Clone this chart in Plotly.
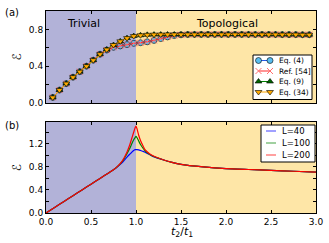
import plotly.graph_objects as go

# ---- panel (a) data ----
x_a = [0.075, 0.15, 0.225, 0.3, 0.375, 0.45, 0.525, 0.6, 0.675, 0.75,
       0.825, 0.9, 0.975, 1.05, 1.125, 1.2, 1.275, 1.35, 1.425, 1.5,
       1.575, 1.65, 1.725, 1.8, 1.875, 1.95, 2.025, 2.1, 2.175, 2.25,
       2.325, 2.4, 2.475, 2.55, 2.625, 2.7, 2.775, 2.85, 2.925]
eq4 = [0.06, 0.14, 0.21, 0.28, 0.34, 0.40, 0.465, 0.53, 0.575, 0.605,
       0.62, 0.635, 0.648, 0.655, 0.665, 0.68, 0.70, 0.718, 0.733, 0.741,
       0.744, 0.745, 0.745, 0.745, 0.745, 0.745, 0.745, 0.745, 0.745, 0.745,
       0.744, 0.744, 0.744, 0.744, 0.743, 0.743, 0.743, 0.742, 0.742]
ref54 = list(eq4)
eq9 = [0.06, 0.14, 0.21, 0.28, 0.34, 0.40, 0.465, 0.53, 0.58, 0.63,
       0.67, 0.705, 0.727, 0.736, 0.741, 0.743, 0.744, 0.745, 0.745, 0.745,
       0.745, 0.745, 0.745, 0.745, 0.745, 0.745, 0.745, 0.745, 0.745, 0.745,
       0.744, 0.744, 0.744, 0.744, 0.743, 0.743, 0.743, 0.742, 0.742]
eq34 = list(eq9)

# ---- panel (b) data ----
x_b = [0.0, 0.1, 0.2, 0.3, 0.4, 0.5, 0.6, 0.7, 0.75, 0.8, 0.85, 0.9, 0.93,
       0.95, 0.97, 0.99, 1.0, 1.01, 1.03, 1.05, 1.08, 1.1, 1.15, 1.2, 1.3,
       1.4, 1.5, 1.75, 2.0, 2.25, 2.5, 2.75, 3.0]
L40 = [0.0, 0.1, 0.2, 0.3, 0.4, 0.5, 0.6, 0.7, 0.75, 0.81, 0.88, 0.97, 1.02,
       1.05, 1.08, 1.10, 1.10, 1.10, 1.095, 1.085, 1.07, 1.055, 1.015, 0.975, 0.925,
       0.88, 0.845, 0.80, 0.77, 0.755, 0.74, 0.725, 0.71]
L100 = [0.0, 0.1, 0.2, 0.3, 0.4, 0.5, 0.6, 0.7, 0.75, 0.815, 0.90, 1.03, 1.12,
        1.19, 1.26, 1.31, 1.33, 1.31, 1.25, 1.19, 1.12, 1.08, 1.02, 0.98, 0.925,
        0.88, 0.845, 0.80, 0.77, 0.755, 0.74, 0.725, 0.71]
L200 = [0.0, 0.1, 0.2, 0.3, 0.4, 0.5, 0.6, 0.7, 0.75, 0.818, 0.91, 1.06, 1.18,
        1.28, 1.38, 1.48, 1.51, 1.47, 1.35, 1.26, 1.16, 1.10, 1.03, 0.985, 0.925,
        0.88, 0.845, 0.80, 0.77, 0.755, 0.74, 0.725, 0.71]

x_ticks = [0.0, 0.5, 1.0, 1.5, 2.0, 2.5, 3.0]
x_ticklabels = ["0.0", "0.5", "1.0", "1.5", "2.0", "2.5", "3.0"]
ya_ticks = [0.0, 0.4, 0.8]
ya_ticklabels = ["0.0", "0.4", "0.8"]
yb_ticks = [0.0, 0.4, 0.8, 1.2]
yb_ticklabels = ["0.0", "0.4", "0.8", "1.2"]

legend_a_names = ["Eq. (4)", "Ref. [54]", "Eq. (9)", "Eq. (34)"]
legend_b_names = ["L=40", "L=100", "L=200"]

FONT = "DejaVu Sans"
LAV = "rgb(178,178,216)"
YEL = "rgb(254,230,167)"

W, H = 329, 243
ML, MR, MT, MB = 46, 13, 11, 30

styles_a = [
    dict(line=dict(color="rgb(40,90,230)", width=1),
         marker=dict(symbol="circle", size=6, color="rgb(90,190,240)",
                     line=dict(color="black", width=0.6))),
    dict(line=dict(color="rgb(255,40,40)", width=1),
         marker=dict(symbol="x-thin", size=6, line=dict(color="rgb(255,110,110)", width=1))),
    dict(line=dict(color="rgb(0,128,0)", width=1),
         marker=dict(symbol="triangle-up", size=6, color="rgb(0,100,0)",
                     line=dict(color="black", width=0.6))),
    dict(line=dict(color="rgb(255,165,0)", width=1),
         marker=dict(symbol="triangle-down", size=6, color="rgb(255,170,0)",
                     line=dict(color="black", width=0.6))),
]
colors_b = ["rgb(0,0,255)", "rgb(0,128,0)", "rgb(255,0,0)"]
colors_b_leg = ["rgb(128,128,255)", "rgb(128,192,128)", "rgb(255,128,128)"]


def paper(xp, yp):
    """pixel position -> paper coordinates"""
    return (xp - ML) / (W - ML - MR), (H - MB - yp) / (H - MT - MB)


fig = go.Figure()

for name, yy, st in zip(legend_a_names, [eq4, ref54, eq9, eq34], styles_a):
    fig.add_trace(go.Scatter(x=x_a, y=yy, name=name, mode="lines+markers",
                             xaxis="x", yaxis="y", showlegend=False, **st))

for name, yy, col in zip(legend_b_names, [L40, L100, L200], colors_b):
    fig.add_trace(go.Scatter(x=x_b, y=yy, name=name, mode="lines",
                             line=dict(color=col, width=1.2, shape="spline", smoothing=0.5),
                             xaxis="x2", yaxis="y2", showlegend=False))

# background regions
for xr, yr in [("x", "y"), ("x2", "y2")]:
    fig.add_shape(type="rect", xref=xr, yref=yr + " domain", x0=0, x1=1, y0=0, y1=1,
                  fillcolor=LAV, line_width=0, layer="below")
    fig.add_shape(type="rect", xref=xr, yref=yr + " domain", x0=1, x1=3, y0=0, y1=1,
                  fillcolor=YEL, line_width=0, layer="below")

axis_common = dict(showgrid=False, zeroline=False, showline=True, linecolor="black",
                   linewidth=1, mirror="ticks", ticks="inside", ticklen=3,
                   tickcolor="black", automargin=False,
                   tickfont=dict(family=FONT, size=9, color="black"))
minor_y = dict(dtick=0.2, tick0=0, ticks="inside", ticklen=3, tickcolor="black",
               showgrid=False)

# ---- manual legends drawn on an overlay axis in pixel units ----
ann = []
fig.add_shape(type="rect", xref="x3", yref="y3", x0=253, x1=312, y0=55, y1=99.5,
              fillcolor="white", line=dict(color="black", width=1), layer="below")
rows_a = [60.5, 71, 81.5, 92]
for name, yc, st in zip(legend_a_names, rows_a, styles_a):
    fig.add_trace(go.Scatter(x=[258.5, 270], y=[yc, yc], mode="lines+markers",
                             xaxis="x3", yaxis="y3", showlegend=False, hoverinfo="skip",
                             cliponaxis=False, **st))
    ann.append(dict(text=name, x=277, y=yc, xref="x3", yref="y3", xanchor="left",
                    yanchor="middle", showarrow=False,
                    font=dict(family=FONT, size=7.5, color="black")))
fig.add_shape(type="rect", xref="x3", yref="y3", x0=261, x1=315, y0=125, y1=162,
              fillcolor="white", line=dict(color="black", width=1), layer="below")
rows_b = [131, 143, 155]
for name, yc, col in zip(legend_b_names, rows_b, colors_b_leg):
    fig.add_trace(go.Scatter(x=[266, 276], y=[yc, yc], mode="lines",
                             line=dict(color=col, width=1.5),
                             xaxis="x3", yaxis="y3", showlegend=False, hoverinfo="skip",
                             cliponaxis=False))
    ann.append(dict(text=name, x=280, y=yc, xref="x3", yref="y3", xanchor="left",
                    yanchor="middle", showarrow=False,
                    font=dict(family=FONT, size=8.5, color="black")))

ann += [
    dict(text="Trivial", x=83, y=23, xref="x3", yref="y3", showarrow=False,
         font=dict(family=FONT, size=11, color="black")),
    dict(text="Topological", x=227, y=23, xref="x3", yref="y3", showarrow=False,
         font=dict(family=FONT, size=11, color="black")),
]
for txt, (xp, yp), sz in [("(a)", (12, 12), 10), ("(b)", (12, 125), 10),
                          ("<i>t</i><sub>2</sub>/<i>t</i><sub>1</sub>", (182, 232), 11)]:
    px_, py_ = paper(xp, yp)
    ann.append(dict(text=txt, x=px_, y=py_, xref="paper", yref="paper",
                    xanchor="center", yanchor="middle", showarrow=False,
                    font=dict(family=FONT, size=sz, color="black")))

fig.update_layout(
    width=W, height=H,
    margin=dict(l=ML, r=MR, t=MT, b=MB),
    paper_bgcolor="white", plot_bgcolor="rgba(0,0,0,0)",
    font=dict(family=FONT, color="black"),
    showlegend=False,
    xaxis=dict(domain=[0, 1], anchor="y", range=[0, 3], tickvals=x_ticks,
               ticktext=x_ticklabels, showticklabels=False, **axis_common),
    yaxis=dict(domain=[0.545, 1.0], anchor="x", range=[0, 1.0], tickvals=ya_ticks,
               ticktext=ya_ticklabels, minor=minor_y,
               title=dict(text="ℰ", font=dict(family=FONT, size=12, color="black"), standoff=4),
               **axis_common),
    xaxis2=dict(domain=[0, 1], anchor="y2", range=[0, 3], tickvals=x_ticks,
                ticktext=x_ticklabels, **axis_common),
    yaxis2=dict(domain=[0.0, 0.4505], anchor="x2", range=[0, 1.58], tickvals=yb_ticks,
                ticktext=yb_ticklabels, minor=minor_y,
                title=dict(text="ℰ", font=dict(family=FONT, size=12, color="black"), standoff=4),
                **axis_common),
    xaxis3=dict(domain=[0, 1], anchor="y3", range=[ML, W - MR], visible=False,
                fixedrange=True),
    yaxis3=dict(domain=[0, 1], anchor="x3", range=[H - MB, MT], visible=False,
                fixedrange=True),
    annotations=ann,
)

fig.write_html("out.html", config={"displayModeBar": False},
               post_script="document.body.style.margin='0px';document.body.style.overflow='hidden';")
